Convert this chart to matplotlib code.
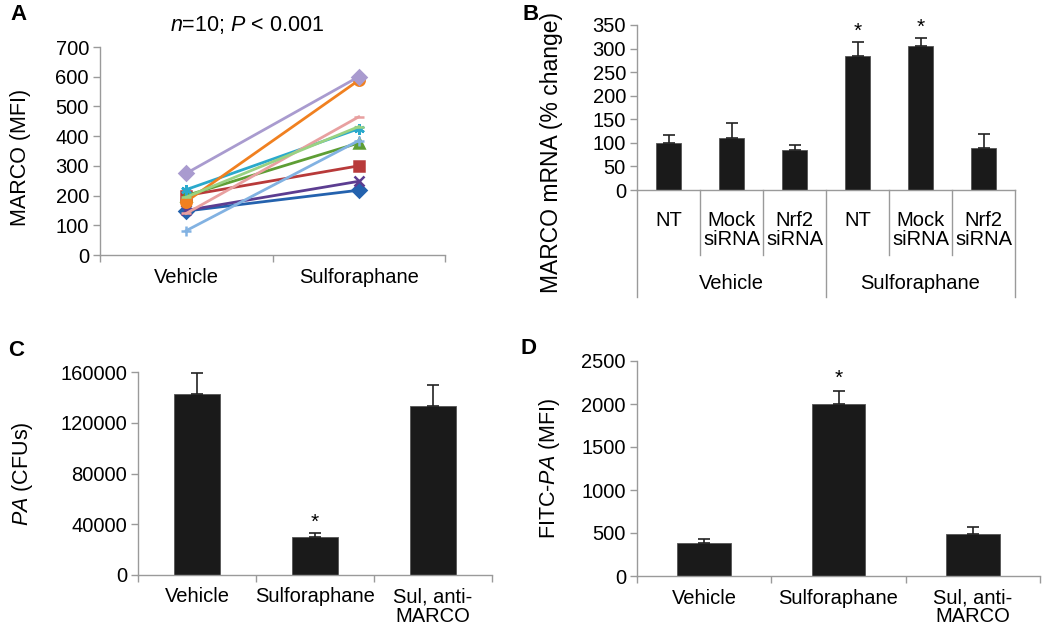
import numpy as np
import matplotlib
matplotlib.use("Agg")
import matplotlib.pyplot as plt
import matplotlib.transforms as mtransforms

plt.rcParams['font.family'] = ['Liberation Sans', 'DejaVu Sans']
plt.rcParams['font.size'] = 10.5
plt.rcParams['mathtext.fontset'] = 'custom'
plt.rcParams['mathtext.rm'] = 'Liberation Sans'
plt.rcParams['mathtext.it'] = 'Liberation Sans:italic'

# Panel A: paired MFI values (vehicle -> sulforaphane)
a_groups = ['Vehicle', 'Sulforaphane']
a_vehicle = [148, 200, 200, 150, 220, 180, 82, 140, 195, 275]
a_sulf = [218, 300, 377, 248, 425, 588, 385, 465, 432, 600]
a_colors = ['#2462AE', '#B83A3A', '#5E9E34', '#5C3D91', '#2AA9CC',
            '#F08020', '#82B2E2', '#E8A0A0', '#9AD282', '#A99BCF']
a_markers = ['D', 's', '^', 'x', (6, 2, 0), 'o', '+', '_', '_', 'D']

# Panel B: MARCO mRNA
b_cats = ['NT', 'Mock\nsiRNA', 'Nrf2\nsiRNA', 'NT', 'Mock\nsiRNA', 'Nrf2\nsiRNA']
b_groups = ['Vehicle', 'Sulforaphane']
b_vals = [100, 110, 85, 285, 305, 90]
b_err = [16, 32, 10, 28, 17, 28]
b_star = [False, False, False, True, True, False]

# Panel C: PA CFUs
c_cats = ['Vehicle', 'Sulforaphane', 'Sul, anti-\nMARCO']
c_vals = [143000, 30000, 133000]
c_err = [16500, 3300, 17000]
c_star = [False, True, False]

# Panel D: FITC-PA MFI
d_cats = ['Vehicle', 'Sulforaphane', 'Sul, anti-\nMARCO']
d_vals = [385, 2000, 490]
d_err = [45, 150, 80]
d_star = [False, True, False]

GRAY = '#9a9a9a'
BAR = '#1a1a1a'
TICK = 14.5
LAB = 15.5

fig = plt.figure(figsize=(10.5, 6.28), dpi=100)


def style(ax):
    for s in ['top', 'right']:
        ax.spines[s].set_visible(False)
    for s in ['left', 'bottom']:
        ax.spines[s].set_color(GRAY)
        ax.spines[s].set_linewidth(1)
    ax.tick_params(axis='both', which='major', direction='out', color=GRAY,
                   length=5, width=1, labelsize=TICK, pad=3)
    ax.tick_params(axis='x', which='minor', length=0, labelsize=TICK, pad=9)


def bars(ax, vals, err, stars, width, star_off):
    x = np.arange(len(vals)) + 0.5
    ax.bar(x, vals, width=width, color=BAR, edgecolor='#555555', linewidth=0.6, zorder=2)
    ax.errorbar(x, vals, yerr=[np.zeros(len(vals)), err], fmt='none',
                ecolor='#222222', elinewidth=1.2, capsize=4, capthick=1.2, zorder=3)
    for xi, v, e, s in zip(x, vals, err, stars):
        if s:
            ax.text(xi, v + e + star_off, '*', ha='center', va='bottom', fontsize=15)
    ax.set_xlim(0, len(vals))
    ax.set_xticks(np.arange(len(vals) + 1))
    ax.set_xticklabels([])
    ax.set_xticks(x, minor=True)


# ---- Panel A ----
axA = fig.add_axes([100 / 1050, 1 - 255 / 628, 345 / 1050, 208 / 628])
style(axA)
for v, s, c, m in zip(a_vehicle, a_sulf, a_colors, a_markers):
    axA.plot([0.5, 1.5], [v, s], color=c, lw=2, marker=m, markersize=7.5,
             markeredgewidth=1.8, clip_on=False)
axA.set_xlim(0, 2)
axA.set_ylim(0, 700)
axA.set_yticks(range(0, 701, 100))
axA.set_xticks([0, 1, 2])
axA.set_xticklabels([])
axA.set_xticks([0.5, 1.5], minor=True)
axA.set_xticklabels(a_groups, minor=True)
axA.set_ylabel('MARCO (MFI)', fontsize=LAB)
axA.yaxis.set_label_coords(-0.20, 0.47)
axA.text(0.426, 1.105, r'$\it{n}$=10; $\it{P}$ < 0.001', transform=axA.transAxes,
         ha='center', va='center', fontsize=15.5)

# ---- Panel B ----
axB = fig.add_axes([637 / 1050, 1 - 190 / 628, 378 / 1050, 165 / 628])
style(axB)
bars(axB, b_vals, b_err, b_star, 0.41, 3)
axB.set_ylim(0, 350)
axB.set_yticks(range(0, 351, 50))
axB.tick_params(axis='x', which='major', length=0)
trans = mtransforms.blended_transform_factory(axB.transData, axB.transAxes)
for xs in [1, 2, 4, 5]:
    axB.plot([xs, xs], [0, -0.394], color=GRAY, lw=1, transform=trans, clip_on=False)
for xs in [0, 3, 6]:
    axB.plot([xs, xs], [0, -0.648], color=GRAY, lw=1, transform=trans, clip_on=False)
for i, lab in enumerate(b_cats):
    axB.text(i + 0.5, -0.125, lab, transform=trans, ha='center', va='top',
             fontsize=TICK, linespacing=1.05)
for g, lab in enumerate(b_groups):
    axB.text(g * 3 + 1.5, -0.565, lab, transform=trans, ha='center', va='center',
             fontsize=TICK)
axB.set_ylabel('MARCO mRNA (% change)', fontsize=16.5)
axB.yaxis.set_label_coords(-0.196, 0.23)

# ---- Panel C ----
axC = fig.add_axes([138 / 1050, 1 - 575 / 628, 354 / 1050, 203 / 628])
style(axC)
bars(axC, c_vals, c_err, c_star, 0.39, 800)
axC.set_ylim(0, 160000)
axC.set_yticks(range(0, 160001, 40000))
axC.set_xticklabels(c_cats, minor=True, linespacing=1.0)
axC.set_ylabel(r'$\it{PA}$ (CFUs)', fontsize=LAB)
axC.yaxis.set_label_coords(-0.29, 0.5)

# ---- Panel D ----
axD = fig.add_axes([637 / 1050, 1 - 576 / 628, 403 / 1050, 215 / 628])
style(axD)
bars(axD, d_vals, d_err, d_star, 0.40, 40)
axD.set_ylim(0, 2500)
axD.set_yticks(range(0, 2501, 500))
axD.set_xticklabels(d_cats, minor=True, linespacing=1.0)
axD.set_ylabel(r'FITC-$\it{PA}$ (MFI)', fontsize=LAB)
axD.yaxis.set_label_coords(-0.186, 0.5)

# panel letters
for lab, x, y in [('A', 10, 14), ('B', 522, 14), ('C', 8, 350), ('D', 520, 348)]:
    fig.text(x / 1050, 1 - y / 628, lab, fontsize=16, fontweight='bold',
             ha='left', va='center')

fig.savefig('out.png', dpi=100, facecolor='white')
